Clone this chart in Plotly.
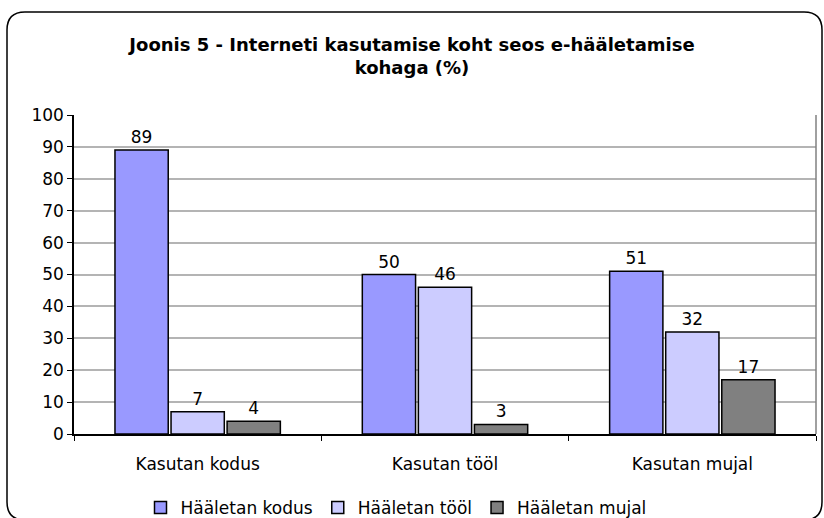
import plotly.graph_objects as go

categories = ["Kasutan kodus", "Kasutan tööl", "Kasutan mujal"]
series_names = ["Hääletan kodus", "Hääletan tööl", "Hääletan mujal"]
values_kodus = [89, 50, 51]
values_tool = [7, 46, 32]
values_mujal = [4, 3, 17]
y_ticks = [0, 10, 20, 30, 40, 50, 60, 70, 80, 90, 100]

colors = ["#9999FF", "#CCCCFF", "#808080"]
font = "Verdana, DejaVu Sans, sans-serif"
fs = 17

fig = go.Figure()
for name, vals, color in zip(series_names, [values_kodus, values_tool, values_mujal], colors):
    fig.add_trace(go.Bar(
        x=categories, y=vals, name=name,
        marker=dict(color=color, line=dict(color="black", width=1.5)),
        text=[str(v) for v in vals], textposition="outside",
        textfont=dict(family=font, size=fs, color="black"),
        cliponaxis=False,
    ))

W, H = 824, 518
L, R, T, B = 74, 8, 115, 84
pw, ph = W - L - R, H - T - B


def px(x):
    return (x - L) / pw


def py(y):
    return (H - B - y) / ph


# rounded chart border
x0, x1, y0, y1, r = 7, 822, 12, 520, 18
path = (
    f"M {px(x0 + r)} {py(y0)} L {px(x1 - r)} {py(y0)} "
    f"Q {px(x1)} {py(y0)} {px(x1)} {py(y0 + r)} "
    f"L {px(x1)} {py(y1 - r)} Q {px(x1)} {py(y1)} {px(x1 - r)} {py(y1)} "
    f"L {px(x0 + r)} {py(y1)} Q {px(x0)} {py(y1)} {px(x0)} {py(y1 - r)} "
    f"L {px(x0)} {py(y0 + r)} Q {px(x0)} {py(y0)} {px(x0 + r)} {py(y0)} Z"
)

fig.update_layout(
    width=W, height=H,
    margin=dict(l=L, r=R, t=T, b=B, autoexpand=False),
    paper_bgcolor="white", plot_bgcolor="white",
    font=dict(family=font, size=fs, color="black"),
    title=dict(
        text="Joonis 5 - Interneti kasutamise koht seos e-hääletamise<br>kohaga (%)",
        x=0.5, xref="container", xanchor="center",
        y=1 - 51 / H, yref="container", yanchor="middle",
        font=dict(family=font, size=18, color="black", weight="bold"),
    ),
    barmode="group", bargap=0.32, bargroupgap=0.05,
    showlegend=True,
    legend=dict(
        orientation="h", x=px(396), xanchor="center", y=py(508), yanchor="middle",
        font=dict(family=font, size=fs, color="black"),
        itemwidth=30, tracegroupgap=0, itemclick=False,
    ),
    shapes=[
        dict(type="path", path=path, xref="paper", yref="paper",
             line=dict(color="black", width=1.5), layer="below"),
        dict(type="line", xref="paper", yref="paper", x0=1, x1=1, y0=0, y1=1,
             line=dict(color="#808080", width=1.5)),
    ],
)
fig.update_yaxes(
    range=[0, 100], tickvals=y_ticks, showgrid=True, gridcolor="#b4b4b4", gridwidth=1.5,
    showline=True, linecolor="black", linewidth=1.5,
    ticks="outside", ticklen=5, tickcolor="black",
    tickfont=dict(family=font, size=fs, color="black"), zeroline=False,
)
fig.update_xaxes(
    showline=True, linecolor="black", linewidth=1.5,
    ticks="outside", tickson="boundaries", ticklen=5, tickcolor="black",
    ticklabelstandoff=14,
    tickfont=dict(family=font, size=fs, color="black"),
)

fig.write_html("out.html", config={"displayModeBar": False},
               post_script="document.body.style.margin='0';")
